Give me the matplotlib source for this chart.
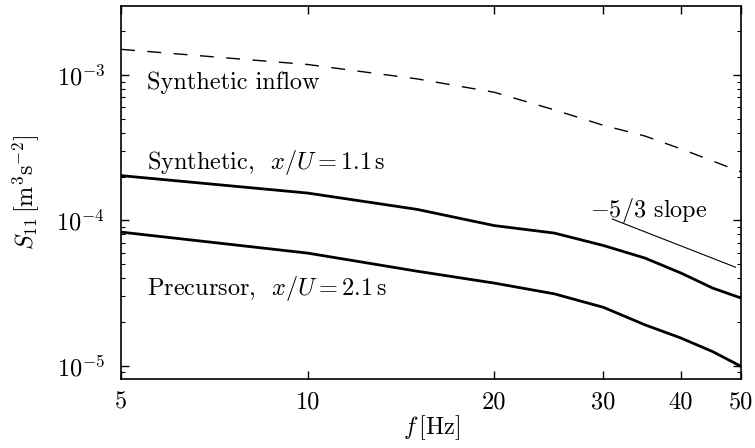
import matplotlib
matplotlib.use("Agg")
import matplotlib.pyplot as plt
from matplotlib.ticker import FixedLocator, NullLocator, LogLocator

# spectra (f in Hz, S11 in m^3 s^-2)
FREQ = [5, 10, 15, 20, 25, 30, 35, 40, 45, 50]
INFLOW = [1.50e-3, 1.18e-3, 9.4e-4, 7.6e-4, 5.75e-4, 4.5e-4, 3.8e-4, 3.1e-4, 2.56e-4, 2.15e-4]
SYNTHETIC = [2.03e-4, 1.54e-4, 1.19e-4, 9.2e-5, 8.17e-5, 6.71e-5, 5.5e-5, 4.34e-5, 3.42e-5, 2.92e-5]
PRECURSOR = [8.3e-5, 5.95e-5, 4.47e-5, 3.7e-5, 3.12e-5, 2.52e-5, 1.91e-5, 1.55e-5, 1.25e-5, 9.9e-6]

# -5/3 reference line
SLOPE_F = [31.0, 49.0]
SLOPE_S0 = 1.02e-4

X_TICKS = [5, 10, 20, 30, 40, 50]

plt.rcParams['font.family'] = 'serif'
plt.rcParams['font.serif'] = ['cmr10']
plt.rcParams['mathtext.fontset'] = 'cm'
plt.rcParams['axes.formatter.use_mathtext'] = True
plt.rcParams['axes.unicode_minus'] = False

FS = 17.5

fig = plt.figure(figsize=(7.55, 4.48), dpi=100)
ax = fig.add_axes([0.1603, 0.154, 0.8212, 0.8326])

ax.plot(FREQ, INFLOW, color='black', lw=1.0, dashes=(10, 9))
ax.plot(FREQ, SYNTHETIC, color='black', lw=2.0)
ax.plot(FREQ, PRECURSOR, color='black', lw=2.0)

slope_s = [SLOPE_S0 * (f / SLOPE_F[0]) ** (-5.0 / 3.0) for f in SLOPE_F]
ax.plot(SLOPE_F, slope_s, color='black', lw=0.8)

ax.set_xscale('log')
ax.set_yscale('log')
ax.set_xlim(5, 50)
ax.set_ylim(8.1e-6, 2.98e-3)

ax.xaxis.set_major_locator(FixedLocator(X_TICKS))
ax.xaxis.set_minor_locator(NullLocator())
ax.set_xticklabels([str(t) for t in X_TICKS])
ax.yaxis.set_major_locator(LogLocator(base=10, numticks=10))
ax.yaxis.set_minor_locator(LogLocator(base=10, subs=range(2, 10), numticks=20))

ax.tick_params(which='both', direction='in', top=True, right=True, labelsize=FS)
ax.tick_params(which='major', length=6, width=1)
ax.tick_params(which='minor', length=3, width=0.8)
ax.tick_params(axis='x', pad=9)
ax.tick_params(axis='y', pad=11.5)
for s in ax.spines.values():
    s.set_linewidth(1.2)

ax.set_xlabel(r'$f\,[\mathrm{Hz}]$', fontsize=FS, labelpad=0)
ax.set_ylabel(r'$S_{11}\,[\mathrm{m}^3\mathrm{s}^{-2}]$', fontsize=FS, labelpad=10)

ax.text(5.5, 8.8e-4, 'Synthetic inflow', fontsize=FS, va='center')
ax.text(5.5, 2.48e-4, r'Synthetic,  $x/U = 1.1\,\mathrm{s}$', fontsize=FS, va='center')
ax.text(5.5, 3.38e-5, r'Precursor,  $x/U = 2.1\,\mathrm{s}$', fontsize=FS, va='center')
ax.text(28.5, 1.16e-4, r'$-5/3$ slope', fontsize=FS, va='center')

fig.savefig('out.png', dpi=100)
